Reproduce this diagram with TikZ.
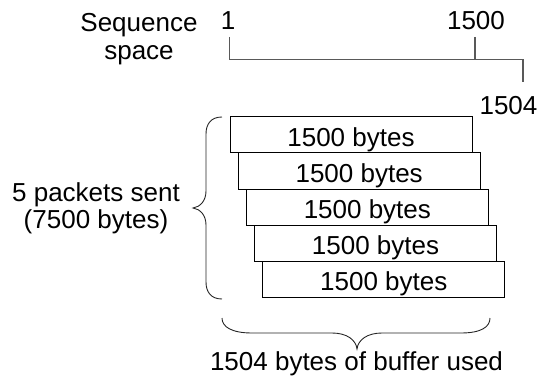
\documentclass[tikz,border=0pt]{standalone}
\usepackage{fontspec}
\setmainfont{Liberation Sans}
\usetikzlibrary{calc}
\begin{document}
\begin{tikzpicture}[x=1pt,y=-1pt,
  lbl/.style={font=\fontsize{26}{28.3}\selectfont, inner sep=0pt},
  pkt/.style={draw=black, line width=0.9pt, minimum width=242pt, minimum height=36pt, inner sep=0pt, anchor=north west},
  axisline/.style={draw=black!65, line width=1.1pt},
  brc/.style={draw=black!85, line width=0.9pt}]
\useasboundingbox (0,0) rectangle (538,385);
% sequence space axis
\coordinate (a1) at (229.5,37);
\coordinate (a1b) at (229.5,59.5);
\coordinate (a2) at (475,37);
\coordinate (a2b) at (475,59.5);
\coordinate (a3) at (523,59.5);
\coordinate (a3b) at (523,82);
\draw[axisline] (a1) -- (a1b) -- (a3) -- (a3b);
\draw[axisline] (a2) -- (a2b);
\node[lbl, anchor=base] (n1) at (228,29.5) {1};
\node[lbl, anchor=base] (n1500) at (476,30) {1500};
\node[lbl, anchor=base] (n1504) at (508.5,115) {1504};
\node[lbl, align=center, anchor=base] (seq) at (139,60) {Sequence\\space};
% packets
\foreach \i/\xx/\yy in {1/229.5/116.5, 2/237.7/152.5, 3/245.9/188.5, 4/254.1/224.5, 5/262.3/260.5}{
  \node[pkt] (p\i) at (\xx,\yy) {};
  \node[lbl, anchor=base] (t\i) at ($(p\i.south)+(0,-7)$) {1500 bytes};
}
% left brace
\coordinate (lb1) at (222,117);
\coordinate (lbt) at (193,208);
\coordinate (lb2) at (222,299);
\draw[brc] (lb1) .. controls (211,117) and (206,124) .. (206,134) -- (206,191)
  .. controls (206,201) and (200,207) .. (lbt)
  .. controls (200,209) and (206,215) .. (206,225) -- (206,282)
  .. controls (206,292) and (211,299) .. (lb2);
\node[lbl, font=\fontsize{26}{26.6}\selectfont, align=center, anchor=base] (sent) at (96,228.3) {5 packets sent\\(7500 bytes)};
% bottom brace
\coordinate (bb1) at (222,318);
\coordinate (bbt) at (357,349);
\coordinate (bb2) at (490,318);
\draw[brc] (bb1) .. controls (222,327) and (232,333) .. (252,333) -- (332,333)
  .. controls (347,333) and (356,340) .. (bbt)
  .. controls (358,340) and (367,333) .. (382,333) -- (461,333)
  .. controls (481,333) and (490,327) .. (bb2);
\node[lbl, anchor=base] (buf) at (356.5,370) {1504 bytes of buffer used};
\end{tikzpicture}
\end{document}
